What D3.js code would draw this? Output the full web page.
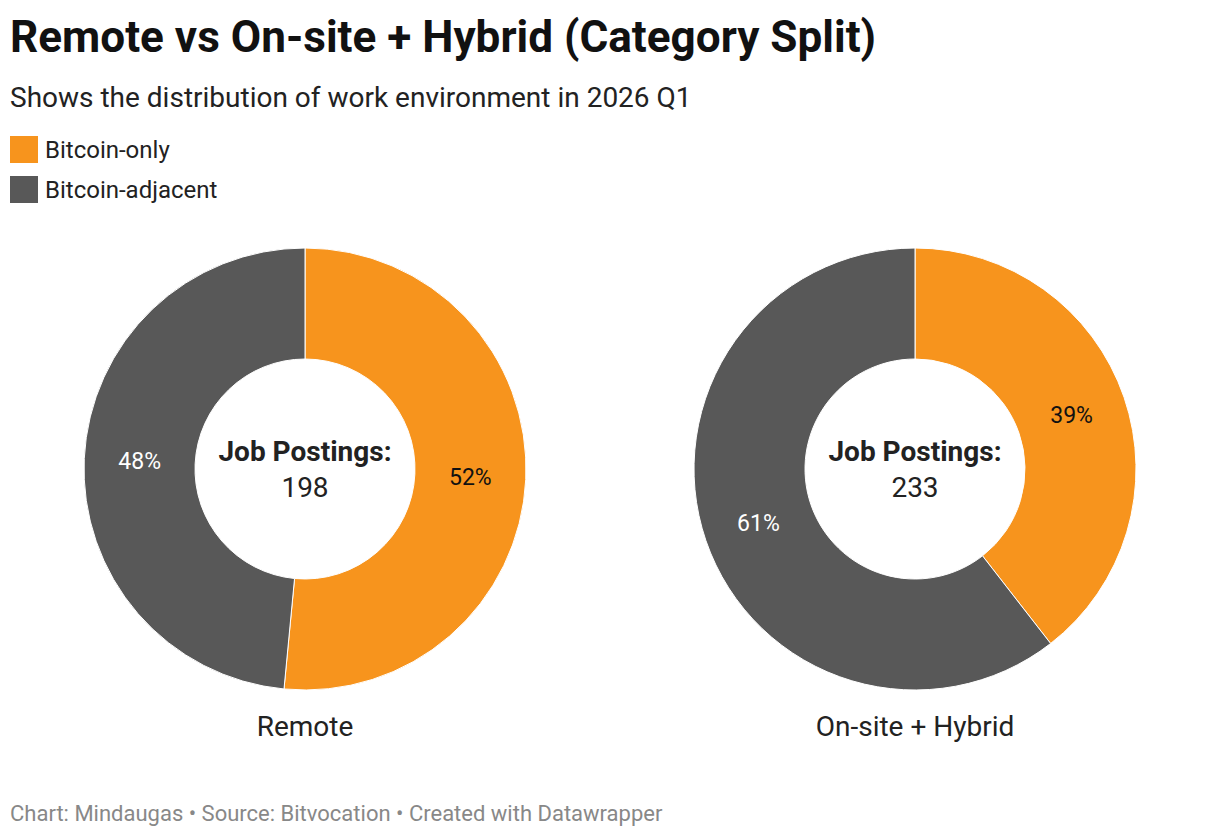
<!DOCTYPE html>
<html>
<head>
<meta charset="utf-8">
<script src="https://cdn.jsdelivr.net/npm/d3@7"></script>
<style>
  body { margin: 0; background: #fff; font-family: Roboto, sans-serif; }
</style>
</head>
<body>
<svg id="chart"></svg>
<script>
// chart data
var categories = ["Bitcoin-only", "Bitcoin-adjacent"];
var colors = ["#f7941d", "#585858"];
var groups = ["Remote", "On-site + Hybrid"];
var remoteValues = [102, 96];
var onsiteValues = [92, 141];
var totals = [198, 233];

var width = 1220, height = 838;

var svg = d3.select("#chart")
    .attr("width", width)
    .attr("height", height);

// header
svg.append("text")
    .attr("x", 10).attr("y", 52)
    .attr("font-size", 44.1).attr("font-weight", 700).attr("fill", "#111")
    .text("Remote vs On-site + Hybrid (Category Split)");

svg.append("text")
    .attr("x", 10).attr("y", 107)
    .attr("font-size", 28).attr("fill", "#222")
    .text("Shows the distribution of work environment in 2026 Q1");

// legend
var legend = svg.selectAll(".legend")
    .data(categories)
  .enter().append("g")
    .attr("transform", function(d, i) { return "translate(10," + (136 + i * 40) + ")"; });

legend.append("rect")
    .attr("width", 28).attr("height", 27)
    .attr("fill", function(d, i) { return colors[i]; });

legend.append("text")
    .attr("x", 35).attr("y", 22)
    .attr("font-size", 24).attr("fill", "#222")
    .text(function(d) { return d; });

// donuts
var outerR = 221, innerR = 110;
var centers = [305, 915];
var cy = 469;

var pie = d3.pie().sort(null).value(function(d) { return d; });
var arc = d3.arc().innerRadius(innerR).outerRadius(outerR);
var labelArc = d3.arc().innerRadius((innerR + outerR) / 2).outerRadius((innerR + outerR) / 2);

[remoteValues, onsiteValues].forEach(function(vals, gi) {
  var g = svg.append("g")
      .attr("transform", "translate(" + centers[gi] + "," + cy + ")");
  var total = d3.sum(vals);
  var arcs = pie(vals);

  g.selectAll("path")
      .data(arcs)
    .enter().append("path")
      .attr("d", arc)
      .attr("fill", function(d, i) { return colors[i]; })
      .attr("stroke", "#fff")
      .attr("stroke-width", 1);

  g.selectAll(".pct")
      .data(arcs)
    .enter().append("text")
      .attr("transform", function(d) { return "translate(" + labelArc.centroid(d) + ")"; })
      .attr("text-anchor", "middle")
      .attr("dy", "0.35em")
      .attr("font-size", 23)
      .attr("fill", function(d, i) { return i === 0 ? "#111" : "#fff"; })
      .text(function(d) { return Math.round(d.value / total * 100) + "%"; });

  g.append("text")
      .attr("text-anchor", "middle").attr("y", -8)
      .attr("font-size", 28).attr("font-weight", 700).attr("fill", "#222")
      .text("Job Postings:");

  g.append("text")
      .attr("text-anchor", "middle").attr("y", 28)
      .attr("font-size", 28).attr("fill", "#222")
      .text(totals[gi]);

  g.append("text")
      .attr("text-anchor", "middle").attr("y", 267)
      .attr("font-size", 28).attr("fill", "#222")
      .text(groups[gi]);
});

// footer
svg.append("text")
    .attr("x", 10).attr("y", 821)
    .attr("font-size", 22).attr("fill", "#888")
    .text("Chart: Mindaugas \u2022 Source: Bitvocation \u2022 Created with Datawrapper");
</script>
</body>
</html>
